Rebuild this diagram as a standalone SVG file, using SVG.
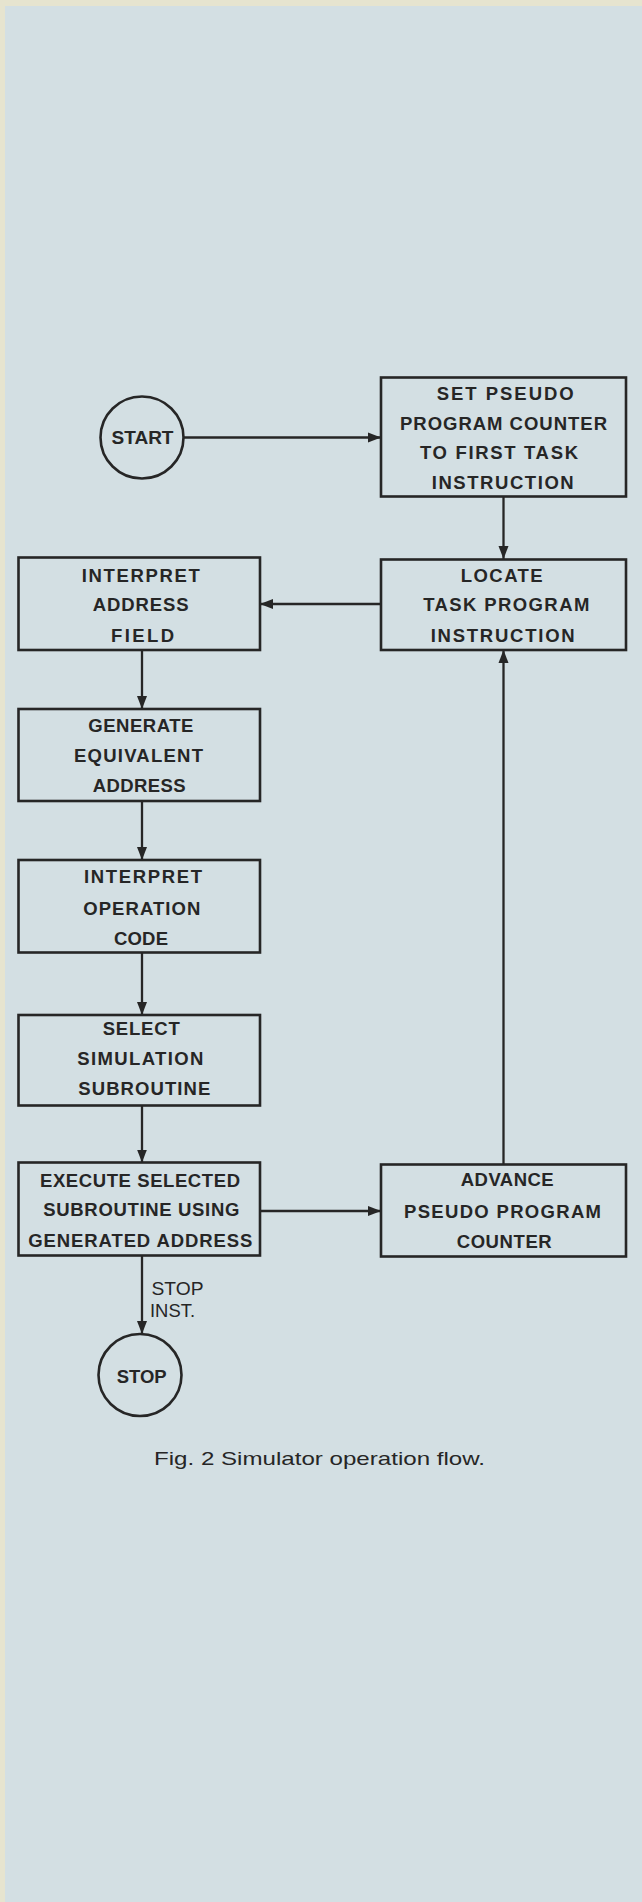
<svg xmlns="http://www.w3.org/2000/svg" width="642" height="1902" viewBox="0 0 642 1902">
<style>
.box{fill:none;stroke:#262626;stroke-width:2.6}
.term{fill:none;stroke:#262626;stroke-width:2.6}
.conn{fill:none;stroke:#262626;stroke-width:2.3}
.lbl{font-family:"Liberation Sans",Arial,sans-serif;font-size:18.5px;font-weight:bold;fill:#262626}
.note{font-family:"Liberation Sans",Arial,sans-serif;font-size:19px;fill:#262626}
</style>
<defs>
<marker id="ah" markerUnits="userSpaceOnUse" markerWidth="14" markerHeight="12" refX="13" refY="6" orient="auto">
<path d="M0,1 L13,6 L0,11 z" fill="#262626"/>
</marker>
</defs>
<rect x="0" y="0" width="642" height="1902" fill="#e6e4cf"/>
<rect x="5" y="6" width="637" height="1896" fill="#d3dfe3"/>

<g id="connectors">
<line class="conn" x1="184" y1="437.5" x2="381" y2="437.5" marker-end="url(#ah)"/>
<line class="conn" x1="503.5" y1="497" x2="503.5" y2="559" marker-end="url(#ah)"/>
<line class="conn" x1="381" y1="604" x2="260" y2="604" marker-end="url(#ah)"/>
<line class="conn" x1="142" y1="650" x2="142" y2="709" marker-end="url(#ah)"/>
<line class="conn" x1="142" y1="801" x2="142" y2="860" marker-end="url(#ah)"/>
<line class="conn" x1="142" y1="952.5" x2="142" y2="1015" marker-end="url(#ah)"/>
<line class="conn" x1="142" y1="1105.5" x2="142" y2="1162.5" marker-end="url(#ah)"/>
<line class="conn" x1="260" y1="1211" x2="381" y2="1211" marker-end="url(#ah)"/>
<line class="conn" x1="503.5" y1="1164.5" x2="503.5" y2="650" marker-end="url(#ah)"/>
<line class="conn" x1="142" y1="1255.5" x2="142" y2="1334" marker-end="url(#ah)"/>
<text class="note" x="151.5" y="1295" textLength="52" lengthAdjust="spacingAndGlyphs">STOP</text>
<text class="note" x="150" y="1317" textLength="45" lengthAdjust="spacingAndGlyphs">INST.</text>
</g>

<g id="start">
<ellipse class="term" cx="142" cy="437.5" rx="41.5" ry="41"/>
<text class="lbl" x="111.5" y="443.5" textLength="62" lengthAdjust="spacingAndGlyphs">START</text>
</g>

<g id="set-counter">
<rect class="box" x="381" y="377.5" width="245" height="119"/>
<text class="lbl" x="436.7" y="400" textLength="137" lengthAdjust="spacing">SET PSEUDO</text>
<text class="lbl" x="400" y="429.5" textLength="207" lengthAdjust="spacing">PROGRAM COUNTER</text>
<text class="lbl" x="420" y="459" textLength="158" lengthAdjust="spacing">TO FIRST TASK</text>
<text class="lbl" x="431.7" y="488.5" textLength="142" lengthAdjust="spacing">INSTRUCTION</text>
</g>

<g id="locate">
<rect class="box" x="381" y="559.5" width="245" height="90.5"/>
<text class="lbl" x="460.7" y="582" textLength="82" lengthAdjust="spacing">LOCATE</text>
<text class="lbl" x="423.3" y="611" textLength="166" lengthAdjust="spacing">TASK PROGRAM</text>
<text class="lbl" x="430.7" y="642" textLength="144" lengthAdjust="spacing">INSTRUCTION</text>
</g>

<g id="interpret-address">
<rect class="box" x="18.5" y="557.5" width="241.5" height="92.5"/>
<text class="lbl" x="81.7" y="581.7" textLength="118" lengthAdjust="spacing">INTERPRET</text>
<text class="lbl" x="92.7" y="610.7" textLength="96" lengthAdjust="spacing">ADDRESS</text>
<text class="lbl" x="111" y="641.7" textLength="63" lengthAdjust="spacing">FIELD</text>
</g>

<g id="generate">
<rect class="box" x="18.5" y="709" width="241.5" height="92"/>
<text class="lbl" x="88.3" y="732.3" textLength="105" lengthAdjust="spacing">GENERATE</text>
<text class="lbl" x="74" y="761.7" textLength="129" lengthAdjust="spacing">EQUIVALENT</text>
<text class="lbl" x="92.7" y="792.3" textLength="93" lengthAdjust="spacing">ADDRESS</text>
</g>

<g id="interpret-op">
<rect class="box" x="18.5" y="860" width="241.5" height="92.5"/>
<text class="lbl" x="84" y="883.3" textLength="118" lengthAdjust="spacing">INTERPRET</text>
<text class="lbl" x="83.3" y="915" textLength="117" lengthAdjust="spacing">OPERATION</text>
<text class="lbl" x="114" y="945" textLength="54" lengthAdjust="spacing">CODE</text>
</g>

<g id="select">
<rect class="box" x="18.5" y="1015" width="241.5" height="90.5"/>
<text class="lbl" x="102.7" y="1035" textLength="77" lengthAdjust="spacing">SELECT</text>
<text class="lbl" x="77.3" y="1065" textLength="126" lengthAdjust="spacing">SIMULATION</text>
<text class="lbl" x="78.3" y="1095" textLength="132" lengthAdjust="spacing">SUBROUTINE</text>
</g>

<g id="execute">
<rect class="box" x="18.5" y="1162.5" width="241.5" height="93"/>
<text class="lbl" x="40" y="1186.7" textLength="200" lengthAdjust="spacing">EXECUTE SELECTED</text>
<text class="lbl" x="43.3" y="1216" textLength="196" lengthAdjust="spacing">SUBROUTINE USING</text>
<text class="lbl" x="28.3" y="1246.7" textLength="224" lengthAdjust="spacing">GENERATED ADDRESS</text>
</g>

<g id="advance">
<rect class="box" x="381" y="1164.5" width="245" height="92"/>
<text class="lbl" x="460.7" y="1186" textLength="93" lengthAdjust="spacing">ADVANCE</text>
<text class="lbl" x="404" y="1218.3" textLength="197" lengthAdjust="spacing">PSEUDO PROGRAM</text>
<text class="lbl" x="456.7" y="1247.7" textLength="95" lengthAdjust="spacing">COUNTER</text>
</g>

<g id="stop">
<ellipse class="term" cx="140" cy="1375" rx="41.5" ry="41"/>
<text class="lbl" x="116.7" y="1383.3" textLength="50" lengthAdjust="spacingAndGlyphs">STOP</text>
</g>

<text class="note" x="154" y="1465" font-size="20" textLength="331" lengthAdjust="spacingAndGlyphs">Fig. 2  Simulator operation flow.</text>
</svg>
